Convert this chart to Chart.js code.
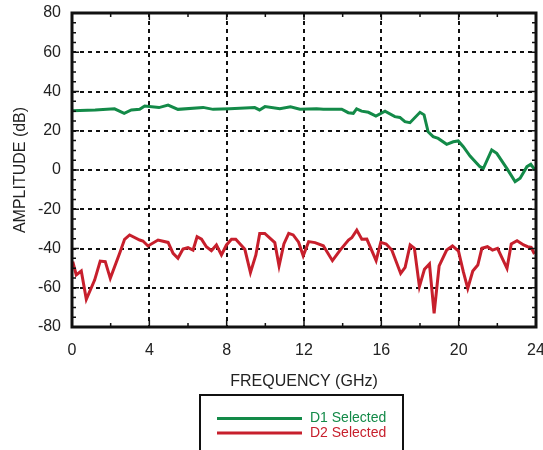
<!DOCTYPE html>
<html>
<head>
<meta charset="utf-8">
<script src="https://cdn.jsdelivr.net/npm/chart.js@4"></script>
<style>
  html, body { margin: 0; padding: 0; background: #fff; }
  #wrap { width: 543px; height: 450px; position: relative; }
</style>
</head>
<body>
<div id="wrap"><canvas id="ampChart"></canvas></div>
<script>
// D1 Selected (green)
const d1Freq = [0, 1.2, 2.2, 2.7, 3.07, 3.5, 3.76, 4.5, 4.97, 5.48, 6.78, 7.3, 8.16, 9.45, 9.7, 9.98, 10.75, 11.3, 11.79, 12.65, 13.0, 13.95, 14.29, 14.55, 14.72, 14.98, 15.33, 15.72, 16.19, 16.7, 16.96, 17.22, 17.48, 18.0, 18.21, 18.42, 18.68, 18.94, 19.38, 19.72, 19.98, 20.24, 20.59, 21.1, 21.28, 21.71, 21.97, 22.49, 22.92, 23.18, 23.53, 23.73, 23.95];
const d1Amp = [30.2, 30.6, 31.2, 28.9, 30.6, 30.9, 32.6, 31.8, 33.1, 30.9, 31.9, 30.9, 31.2, 31.8, 30.6, 32.3, 31.2, 32.2, 31.0, 31.2, 30.9, 31.0, 29.2, 28.9, 31.2, 30.0, 29.4, 27.5, 30.0, 27.2, 26.8, 24.6, 24.1, 29.4, 28.1, 19.5, 17.0, 16.1, 13.1, 14.4, 14.8, 11.9, 7.1, 1.7, 0.85, 10.2, 8.5, 0.85, -5.9, -4.2, 1.7, 2.9, 0];

// D2 Selected (red)
const d2Freq = [0.04, 0.22, 0.48, 0.74, 1.17, 1.46, 1.72, 1.98, 2.46, 2.72, 2.98, 3.5, 3.67, 3.93, 4.45, 4.97, 5.23, 5.48, 5.74, 6.0, 6.26, 6.47, 6.7, 6.95, 7.21, 7.47, 7.73, 7.99, 8.25, 8.47, 8.94, 9.23, 9.51, 9.71, 9.97, 10.49, 10.71, 10.96, 11.21, 11.44, 11.72, 11.96, 12.24, 12.57, 13.0, 13.47, 13.87, 14.3, 14.47, 14.73, 14.99, 15.25, 15.73, 15.97, 16.25, 16.54, 17.0, 17.23, 17.49, 17.71, 17.97, 18.23, 18.49, 18.73, 18.99, 19.38, 19.68, 19.99, 20.24, 20.47, 20.73, 20.99, 21.2, 21.49, 21.75, 22.01, 22.5, 22.72, 23.02, 23.36, 23.57, 23.75, 23.92];
const d2Amp = [-46.7, -53.5, -51.5, -65.9, -56.1, -46.4, -46.7, -55.2, -42.5, -35.3, -33.1, -35.7, -36.2, -38.7, -35.7, -36.9, -42.5, -45.0, -40.3, -39.6, -40.8, -34.0, -35.2, -39.1, -41.1, -38.2, -43.3, -38.2, -35.3, -35.3, -40.4, -52.3, -43.3, -32.3, -32.3, -37.0, -48.9, -37.7, -32.3, -33.1, -36.8, -43.7, -36.5, -37.0, -38.6, -46.2, -40.8, -35.7, -34.5, -30.6, -35.3, -35.2, -46.2, -36.9, -37.7, -40.8, -52.7, -49.6, -38.2, -39.9, -59.4, -50.6, -47.9, -73.0, -48.9, -40.8, -38.7, -41.3, -51.8, -60.3, -51.5, -48.4, -39.9, -39.1, -40.8, -39.9, -50.1, -37.7, -36.0, -38.2, -39.1, -39.4, -42.8];

const seriesLabels = ["D1 Selected", "D2 Selected"];
const seriesColors = ["#138a48", "#c71f2c"];

const xTicks = [0, 4, 8, 12, 16, 20, 24];
const yTicks = [-80, -60, -40, -20, 0, 20, 40, 60, 80];

const FONT = "'Liberation Sans', Arial, Helvetica, sans-serif";
const TEXT = "#222";

function toPoints(xs, ys) {
    return xs.map((x, i) => ({ x: x, y: ys[i] }));
}

// frame, inward minor ticks and the boxed legend under the axis title
const framePlugin = {
    id: "frame",
    afterDraw(chart) {
        const c = chart.ctx;
        const a = chart.chartArea;
        const xs = chart.scales.x;
        const ys = chart.scales.y;
        c.save();
        c.strokeStyle = "#111";
        c.lineWidth = 1.5;
        for (let v = 0; v <= 24; v += 2) {
            const px = xs.getPixelForValue(v);
            const len = v % 4 === 0 ? 7 : 4;
            c.beginPath();
            c.moveTo(px, a.bottom); c.lineTo(px, a.bottom - len);
            c.moveTo(px, a.top); c.lineTo(px, a.top + len);
            c.stroke();
        }
        for (let v = -80; v <= 80; v += 5) {
            const py = ys.getPixelForValue(v);
            const len = v % 20 === 0 ? 7 : 4;
            c.beginPath();
            c.moveTo(a.left, py); c.lineTo(a.left + len, py);
            c.moveTo(a.right, py); c.lineTo(a.right - len, py);
            c.stroke();
        }
        c.lineWidth = 3;
        c.strokeRect(a.left, a.top, a.right - a.left, a.bottom - a.top);

        // legend
        c.lineWidth = 2;
        c.strokeRect(200, 395, 203, 70);
        chart.data.datasets.forEach((ds, i) => {
            const y = 418.5 + i * 14.5;
            c.strokeStyle = ds.borderColor;
            c.lineWidth = 3;
            c.beginPath();
            c.moveTo(217, y); c.lineTo(302, y);
            c.stroke();
            c.fillStyle = ds.borderColor;
            c.font = "14px " + FONT;
            c.textAlign = "left";
            c.textBaseline = "middle";
            c.fillText(ds.label, 310, y);
        });
        c.restore();
    }
};

const ctx = document.getElementById("ampChart").getContext("2d");
const ampChart = new Chart(ctx, {
    type: "line",
    data: {
        datasets: [
            {
                label: seriesLabels[0],
                data: toPoints(d1Freq, d1Amp),
                borderColor: seriesColors[0],
                borderWidth: 3,
                pointRadius: 0,
                tension: 0
            },
            {
                label: seriesLabels[1],
                data: toPoints(d2Freq, d2Amp),
                borderColor: seriesColors[1],
                borderWidth: 3,
                pointRadius: 0,
                tension: 0
            }
        ]
    },
    options: {
        responsive: true,
        maintainAspectRatio: false,
        animation: false,
        layout: { padding: { top: 13, right: 7, bottom: 59, left: 0 } },
        plugins: {
            legend: { display: false },
            tooltip: { enabled: false }
        },
        scales: {
            x: {
                type: "linear",
                min: 0,
                max: 24,
                afterBuildTicks: (scale) => { scale.ticks = xTicks.map(v => ({ value: v })); },
                afterFit: (scale) => { scale.height = 64; scale.paddingRight = 0; scale.paddingLeft = 0; },
                ticks: { padding: 14, color: TEXT, font: { family: FONT, size: 16 } },
                grid: { color: "#111", lineWidth: 2, drawTicks: false },
                border: { display: false, dash: [4, 4] },
                title: {
                    display: true,
                    text: "FREQUENCY (GHz)",
                    color: TEXT,
                    font: { family: FONT, size: 16 },
                    padding: { top: 0, bottom: 0 }
                }
            },
            y: {
                type: "linear",
                min: -80,
                max: 80,
                afterBuildTicks: (scale) => { scale.ticks = yTicks.map(v => ({ value: v })); },
                afterFit: (scale) => { scale.width = 72; scale.paddingTop = 0; scale.paddingBottom = 0; },
                ticks: { padding: 11, color: TEXT, font: { family: FONT, size: 16 } },
                grid: { color: "#111", lineWidth: 2, drawTicks: false },
                border: { display: false, dash: [4, 4] },
                title: {
                    display: true,
                    text: "AMPLITUDE (dB)",
                    color: TEXT,
                    font: { family: FONT, size: 16 },
                    padding: { top: 11, bottom: 0 }
                }
            }
        }
    },
    plugins: [framePlugin]
});
</script>
</body>
</html>
